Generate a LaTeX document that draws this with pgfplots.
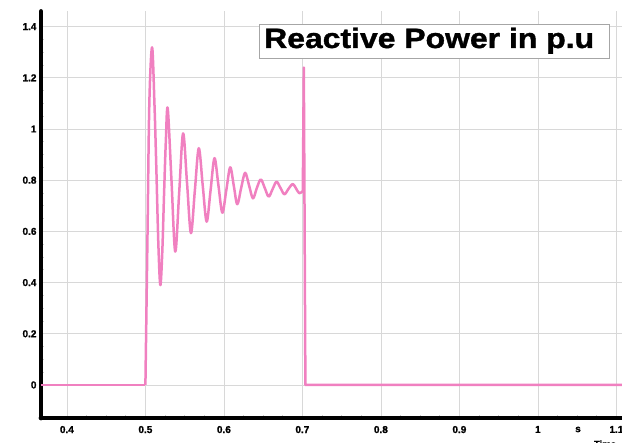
\documentclass[border=0pt]{standalone}
\usepackage{pgfplots}
\pgfplotsset{compat=1.18}
\usepackage{fontspec}
\setmainfont{Liberation Sans}
\newfontfamily\heavyfont[FakeBold=1.2]{Liberation Sans Bold}
\newfontfamily\titlefont[FakeBold=1.3,FakeStretch=1.14]{Liberation Sans Bold}
\definecolor{qpink}{RGB}{240,128,192}
\definecolor{gridgray}{RGB}{216,216,216}

\begin{document}
\begin{tikzpicture}[x=1pt,y=1pt]
\useasboundingbox (0,0) rectangle (622,443);
\clip (0,0) rectangle (622,443);
\begin{axis}[
  at={(41pt,25pt)}, anchor=south west,
  scale only axis, width=581.7pt, height=406.5pt,
  xmin=0.367, xmax=1.108, ymin=-0.129, ymax=1.459,
  axis x line=bottom, axis y line=left,
  axis line style={-, line width=4.8pt, line cap=round},
  tick align=inside,
  xtick={0.4,0.5,0.6,0.7,0.8,0.9,1,1.1},
  ytick={0,0.2,0.4,0.6,0.8,1,1.2,1.4},
  minor x tick num=3, minor y tick num=3,
  major tick length=0pt, minor tick length=3pt,
  minor tick style={gray!40, line width=0.6pt},
  grid=major, major grid style={gridgray, line width=0.8pt},
  /pgf/number format/assume math mode=true,
  tick label style={font=\heavyfont\fontsize{10}{11}\selectfont},
  xticklabel style={yshift=-4.5pt},
  yticklabel style={xshift=-1pt},
]
% pre-fault level
\addplot[qpink, line width=2.5pt, line join=round] coordinates {
  (0.367,0) (0.5,0)
};
% damped oscillation during the disturbance
\addplot[qpink, line width=2.5pt, line join=round, smooth, tension=0.55] coordinates {
  (0.5000,0.00) (0.5025,0.55) (0.5050,1.10) (0.5085,1.319) (0.5115,1.10)
  (0.5138,0.86) (0.5165,0.55) (0.5190,0.39) (0.5215,0.52) (0.5237,0.74)
  (0.5260,0.95) (0.5284,1.081) (0.5332,0.80) (0.5380,0.521) (0.5430,0.75)
  (0.5480,0.983) (0.5530,0.79) (0.5580,0.593) (0.5630,0.76) (0.5680,0.925)
  (0.5730,0.78) (0.5780,0.638) (0.5830,0.76) (0.5880,0.886) (0.5930,0.78)
  (0.5980,0.673) (0.6030,0.76) (0.6080,0.850) (0.6125,0.78) (0.6170,0.706)
  (0.6220,0.77) (0.6270,0.829) (0.6320,0.78) (0.6370,0.729) (0.6420,0.77)
  (0.6470,0.803) (0.6520,0.77) (0.6570,0.736) (0.6620,0.765) (0.6670,0.794)
  (0.6720,0.77) (0.6770,0.745) (0.6820,0.765) (0.6877,0.785) (0.6920,0.767)
  (0.6960,0.749) (0.7005,0.757)
};
% switching spike and return to zero
\addplot[qpink, line width=2.5pt, line join=round] coordinates {
  (0.7005,0.757) (0.7018,1.24) (0.7038,0) (1.108,0)
};
\end{axis}
\node[font=\heavyfont\fontsize{10}{11}\selectfont] at (578,13.5) {s};
\node[anchor=north, font=\heavyfont\fontsize{9.5}{10}\selectfont] at (605,6) {Time};
\draw[gray!70, fill=white, line width=0.8pt] (259,384.7) rectangle (609,418.7);
\node[anchor=base west, inner sep=0pt, font=\titlefont\fontsize{28}{30}\selectfont] at (264,395) {Reactive Power in p.u};
\end{tikzpicture}
\end{document}
